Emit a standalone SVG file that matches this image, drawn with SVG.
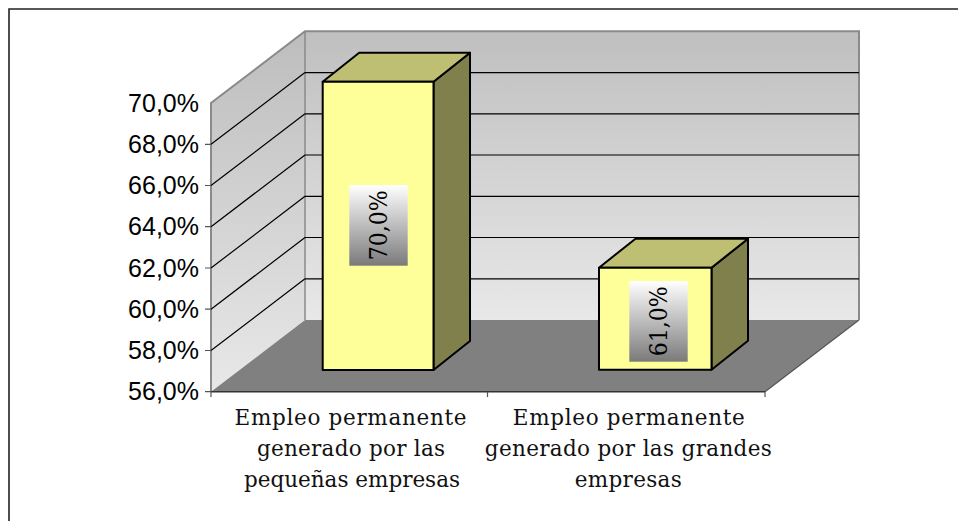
<svg xmlns="http://www.w3.org/2000/svg" width="958" height="521" viewBox="0 0 958 521">
<defs>
<linearGradient id="gBack" x1="0" y1="0" x2="0" y2="1">
<stop offset="0" stop-color="#bfbfbf"/>
<stop offset="1" stop-color="#e8e8e8"/>
</linearGradient>
<linearGradient id="gLeft" x1="0" y1="0" x2="0" y2="1">
<stop offset="0" stop-color="#bdbdbd"/>
<stop offset="1" stop-color="#e8e8e8"/>
</linearGradient>
<linearGradient id="gLbl" x1="0" y1="0" x2="0" y2="1">
<stop offset="0" stop-color="#ffffff"/>
<stop offset="1" stop-color="#7a7a7a"/>
</linearGradient>
<style>
.grid{stroke:#000;stroke-width:1.2;fill:none}
.wallEdge{stroke:#8a8a8a;stroke-width:2;fill:none}
.tick{stroke:#555;stroke-width:1.2}
.ax{font-family:"Liberation Sans",Arial,sans-serif;font-size:25px;fill:#000;text-anchor:end}
.cat{font-family:"DejaVu Serif","Liberation Serif",serif;font-size:21.5px;fill:#111;text-anchor:middle}
.front{fill:#ffff99;stroke:#000;stroke-width:2;stroke-linejoin:round}
.top{fill:#bfbf73;stroke:#000;stroke-width:2;stroke-linejoin:round}
.side{fill:#80804d;stroke:#000;stroke-width:2;stroke-linejoin:round}
.lblbox{fill:url(#gLbl)}
.lbl{font-family:"DejaVu Serif","Liberation Serif",serif;font-size:25px;fill:#000;text-anchor:middle;dominant-baseline:central}
</style>
</defs>
<rect x="0" y="0" width="958" height="521" fill="#ffffff"/>
<g id="frame">
<path d="M9,521 V9 H958" fill="none" stroke="#222" stroke-width="1.6"/>
</g>
<g id="walls">
<polygon points="305,31.3 859,31.3 859,320 305,320" fill="url(#gBack)"/>
<polygon points="211,103 305,31.3 305,320 211,391.7" fill="url(#gLeft)"/>
<polygon points="211,391.7 305,320 859,320 765,391.7" fill="#808080"/>
<polyline class="wallEdge" points="211,391.7 211,103 305,31.3 859,31.3 859,320"/>
<line x1="305" y1="31.3" x2="305" y2="320" stroke="#8a8a8a" stroke-width="1.5"/>
<line x1="765" y1="391.7" x2="859" y2="320" stroke="#555" stroke-width="1.2"/>
</g>
<g id="gridlines">
<path class="grid" d="M305,72.6 H859 M305,113.8 H859 M305,155 H859 M305,196.3 H859 M305,237.5 H859 M305,278.8 H859"/>
<path class="grid" d="M211,144.3 L305,72.6 M211,185.5 L305,113.8 M211,226.7 L305,155 M211,268 L305,196.3 M211,309.2 L305,237.5 M211,350.5 L305,278.8"/>
</g>
<g id="axes">
<line x1="211" y1="391.7" x2="765" y2="391.7" stroke="#333" stroke-width="1.4"/>
<path class="tick" d="M205,144.3 H211 M205,185.5 H211 M205,226.7 H211 M205,268 H211 M205,309.2 H211 M205,350.5 H211 M205,391.7 H211 M211,391.7 V397 M487.5,391.7 V397 M765,391.7 V397"/>
<text class="ax" x="199" y="111.7">70,0%</text>
<text class="ax" x="199" y="153">68,0%</text>
<text class="ax" x="199" y="194.2">66,0%</text>
<text class="ax" x="199" y="235.4">64,0%</text>
<text class="ax" x="199" y="276.7">62,0%</text>
<text class="ax" x="199" y="317.9">60,0%</text>
<text class="ax" x="199" y="359.2">58,0%</text>
<text class="ax" x="199" y="400.4">56,0%</text>
</g>
<g id="bar1">
<polygon class="side" points="433.5,81.7 470,52.7 470,341 433.5,370"/>
<polygon class="top" points="322.7,81.7 359.2,52.7 470,52.7 433.5,81.7"/>
<rect class="front" x="322.7" y="81.7" width="110.8" height="288.3"/>
<rect class="lblbox" x="349.3" y="185" width="58.4" height="80.7"/>
<text class="lbl" transform="translate(378.5,225.3) rotate(-90)" textLength="70" lengthAdjust="spacingAndGlyphs">70,0%</text>
</g>
<g id="bar2">
<polygon class="side" points="711.5,267.7 748,238.7 748,340.7 711.5,369.7"/>
<polygon class="top" points="599,267.7 635.5,238.7 748,238.7 711.5,267.7"/>
<rect class="front" x="599" y="267.7" width="112.5" height="102"/>
<rect class="lblbox" x="629.3" y="281" width="58.4" height="80.7"/>
<text class="lbl" transform="translate(658.5,321.3) rotate(-90)" textLength="70" lengthAdjust="spacingAndGlyphs">61,0%</text>
</g>
<g id="cat1">
<text class="cat" x="350.5" y="425" textLength="232" lengthAdjust="spacing">Empleo permanente</text>
<text class="cat" x="351" y="456" textLength="188" lengthAdjust="spacing">generado por las</text>
<text class="cat" x="352" y="487" textLength="216" lengthAdjust="spacing">pequeñas empresas</text>
</g>
<g id="cat2">
<text class="cat" x="628.8" y="425" textLength="232" lengthAdjust="spacing">Empleo permanente</text>
<text class="cat" x="628.3" y="456" textLength="287" lengthAdjust="spacing">generado por las grandes</text>
<text class="cat" x="628.3" y="487" textLength="107" lengthAdjust="spacing">empresas</text>
</g>
</svg>
